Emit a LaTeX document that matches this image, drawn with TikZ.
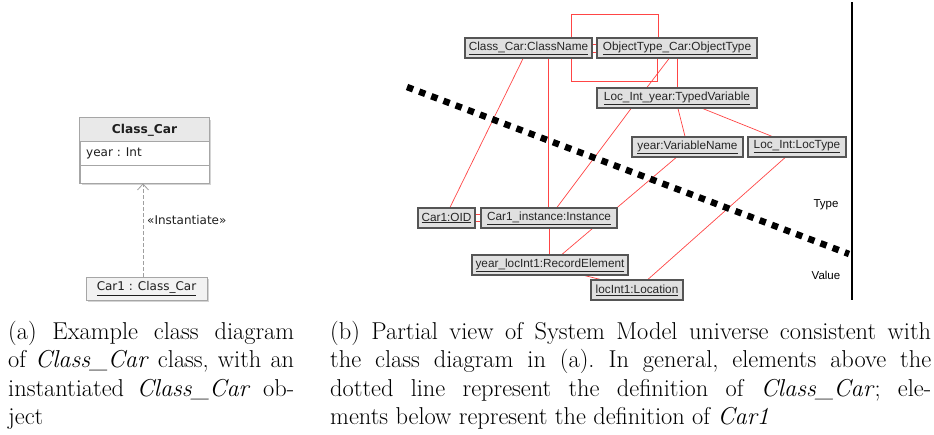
\documentclass[tikz,border=0pt]{standalone}
\usepackage{fontspec}
\newfontfamily\umlfont{DejaVu Sans}
\newfontfamily\objfont{Liberation Sans}
\usetikzlibrary{arrows.meta,calc,backgrounds}

\definecolor{linkred}{HTML}{FF4545}
\definecolor{objfill}{HTML}{E0E0E0}
\definecolor{objedge}{HTML}{555555}
\definecolor{umledge}{HTML}{A6A6A6}
\definecolor{umlhead}{HTML}{E9E9E9}
\definecolor{umlfill}{HTML}{F2F2F2}
\definecolor{umlshadow}{HTML}{D4D4D4}
\definecolor{umltext}{HTML}{1E1E1E}

\tikzset{
  umlbox/.style={draw=umledge, line width=0.8pt, fill=white, inner sep=0pt},
  umltxt/.style={font=\umlfont\fontsize{12}{14}\selectfont, text=umltext, inner sep=0pt},
  objbox/.style={draw=objedge, line width=1.3pt, fill=objfill, minimum height=20pt,
    inner sep=0pt, font=\objfont\fontsize{11.8}{13}\selectfont, text=black!85},
  link/.style={draw=linkred, line width=0.7pt},
  sideword/.style={font=\objfont\fontsize{11.5}{13}\selectfont, inner sep=0pt},
  captxt/.style={inner sep=0pt, anchor=base west},
}
% caption block: justified lines set by hand, fixed line pitch
\newcommand{\capblock}[2]{\parbox[t]{#1}{\fontsize{24.4}{28.6}\selectfont
  \setlength{\baselineskip}{28.6pt}\frenchspacing #2}}

\begin{document}
\begin{tikzpicture}[x=1pt, y=-1pt]
\useasboundingbox (0,0) rectangle (934,434);

% ---------------- (a) UML class and its instance ----------------
\node[umlbox, minimum width=129pt, minimum height=65pt] (cls) at (144.5,150.5) {};
\fill[umlhead] ($(cls.north west)+(0.4,0.4)$) rectangle ($(cls.north east)+(-0.4,24)$);
\draw[umledge, line width=0.8pt] ($(cls.north west)+(0,24)$) -- ($(cls.north east)+(0,24)$);
\draw[umledge, line width=0.8pt] ($(cls.north west)+(0,48)$) -- ($(cls.north east)+(0,48)$);
\draw[umledge, line width=0.8pt] (cls.north west) rectangle (cls.south east);
\node[umltxt, font=\umlfont\bfseries\fontsize{12.2}{14}\selectfont] (clsname) at (144.5,130.5) {Class\_Car};
\node[umltxt, anchor=west] (clsattr) at (86,153.5) {year : Int};

\node[umlbox, fill=umlfill, minimum width=121pt, minimum height=23pt, umltxt] (car) at (146.5,288.5)
  {\underline{Car1 : Class\_Car}};

\begin{scope}[on background layer]
  \fill[umlshadow] ($(cls.south west)+(2,2)$) rectangle ($(cls.north east)+(2,2)$);
  \fill[umlshadow] ($(car.south west)+(2,2)$) rectangle ($(car.north east)+(2,2)$);
\end{scope}

\draw[gray!75, line width=0.8pt, dash pattern=on 3.5pt off 2.5pt,
      -{Straight Barb[length=6pt, width=11pt]}]
  ($(car.north)+(-3.5,0)$) -- ($(cls.south)+(-1.5,0)$);
\node[umltxt, anchor=west] (inst) at (147,220) {«Instantiate»};

% ---------------- (b) System Model universe ----------------
\node[objbox, minimum width=127pt] (cn)   at (528.5,48)  {\underline{Class\_Car:ClassName}};
\node[objbox, minimum width=160pt] (ot)   at (677,48)    {\underline{ObjectType\_Car:ObjectType}};
\node[objbox, minimum width=160pt] (tv)   at (677,98)    {\underline{Loc\_Int\_year:TypedVariable}};
\node[objbox, minimum width=111pt] (vn)   at (687.5,147) {\underline{year:VariableName}};
\node[objbox, minimum width=98pt]  (lt)   at (797,147)   {\underline{Loc\_Int:LocType}};
\node[objbox, minimum width=57pt]  (oid)  at (446.5,218) {\underline{Car1:OID}};
\node[objbox, minimum width=136pt] (ins)  at (549,218)   {\underline{Car1\_instance:Instance}};
\node[objbox, minimum width=156pt] (re)   at (550,265)   {\underline{year\_locInt1:RecordElement}};
\node[objbox, minimum width=92pt]  (loc)  at (637,290)   {\underline{locInt1:Location}};

\begin{scope}[on background layer]
  % loop between the class name and its object type
  \draw[link] ($(cn.north)+(42.5,0)$) -- ++(0,-23) -| ($(ot.north)+(-19,0)$);
  \draw[link] ($(cn.south)+(42.5,0)$) -- ++(0,23) -| ($(ot.south)+(-20,0)$);
  % paired links
  \draw[link] ($(cn.east)+(0,-4)$) -- ($(ot.west)+(0,-4)$);
  \draw[link] ($(cn.east)+(0,4)$)  -- ($(ot.west)+(0,4)$);
  \draw[link] ($(oid.east)+(0,-3.5)$) -- ($(ins.west)+(0,-3.5)$);
  \draw[link] ($(oid.east)+(0,3.5)$)  -- ($(ins.west)+(0,3.5)$);
  % single links
  \draw[link] ($(cn.south)+(-5.5,0)$) -- ($(oid.north)+(3.5,0)$);
  \draw[link] ($(cn.south)+(19.5,0)$) -- ($(ins.north)+(-1,0)$);
  \draw[link] ($(ot.south)+(-8,0)$)   -- ($(tv.north)+(-30,0)$);
  \draw[link] (ot.south) -- (tv.north);
  \draw[link] ($(tv.south)+(-46,0)$)  -- ($(ins.north)+(8,0)$);
  \draw[link] ($(tv.south)+(1,0)$)    -- ($(vn.north)+(-2.5,0)$);
  \draw[link] ($(tv.south)+(26,0)$)   -- ($(lt.north)+(-25,0)$);
  \draw[link] ($(vn.south)+(-11.5,0)$) -- ($(re.north)+(12,0)$);
  \draw[link] ($(lt.south)+(-12,0)$)  -- ($(loc.north)+(11,0)$);
  \draw[link] (ins.south) -- ($(re.north)+(-1,0)$);
  \draw[link] ($(re.south)+(35,0)$)   -- ($(loc.north)+(-37,0)$);
\end{scope}

% boundary between type and value elements
\coordinate (sepA) at (407,87);
\coordinate (sepB) at (849,254);
\draw[line width=6.5pt, dash pattern=on 6.5pt off 6.5pt] (sepA) -- (sepB);
\coordinate (edgeTop) at (852,2);
\coordinate (edgeBot) at (852,300);
\draw[line width=1.3pt] (edgeTop) -- (edgeBot);
\node[sideword] (typeword)  at (826,205) {Type};
\node[sideword] (valueword) at (826,275) {Value};

% ---------------- captions ----------------
\node[captxt] (capa) at (8,339) {\capblock{286pt}{%
  \makebox[\linewidth][s]{(a) Example class diagram}\\
  \makebox[\linewidth][s]{of \textit{Class\_Car} class, with an}\\
  \makebox[\linewidth][s]{instantiated \textit{Class\_Car} ob-}\\
  ject}};
\node[captxt] (capb) at (330,339) {\capblock{601pt}{%
  \makebox[\linewidth][s]{(b) Partial view of System Model universe consistent with}\\
  \makebox[\linewidth][s]{the class diagram in (a). In general, elements above the}\\
  \makebox[\linewidth][s]{dotted line represent the definition of \textit{Class\_Car}; ele-}\\
  ments below represent the definition of \textit{Car1}}};
\end{tikzpicture}
\end{document}
